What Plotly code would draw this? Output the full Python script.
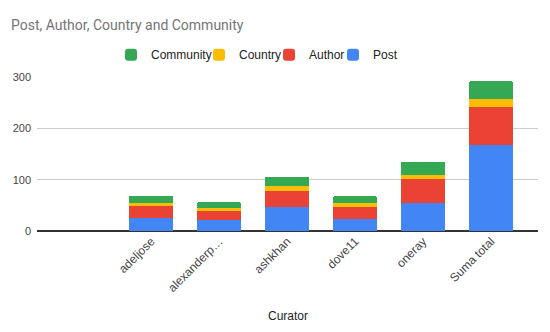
import plotly.graph_objects as go

categories = [" ", "adeljose", "alexanderp…", "ashkhan", "dove11", "oneray", "Suma total"]
post = [None, 25, 21, 47, 23, 55, 167]
author = [None, 23, 18, 31, 23, 46, 75]
country = [None, 6, 6, 10, 8, 9, 15]
community = [None, 15, 11, 18, 14, 25, 35]

series = [
    ("Post", post, "#4285F4", "legend4"),
    ("Author", author, "#EA4335", "legend3"),
    ("Country", country, "#FBBC04", "legend2"),
    ("Community", community, "#34A853", "legend"),
]

fig = go.Figure()
for name, vals, color, lg in series:
    fig.add_trace(go.Bar(
        x=categories, y=vals, name=name, legend=lg, showlegend=True,
        marker=dict(color=color, line=dict(width=0)),
    ))

LFONT = "Arial, Liberation Sans, sans-serif"
legend_x = {"legend": 0.1477, "legend2": 0.3233, "legend3": 0.4631, "legend4": 0.5908}
legend_common = dict(orientation="h", xanchor="left", y=1.145, yanchor="middle",
                     font=dict(family=LFONT, size=12, color="#222222"),
                     bgcolor="rgba(0,0,0,0)", itemclick=False)

fig.update_layout(
    showlegend=True,
    barmode="stack",
    bargap=0.35,
    barcornerradius=2,
    width=550, height=332,
    margin=dict(l=37, r=12, t=77, b=101),
    paper_bgcolor="white", plot_bgcolor="white",
    font=dict(family=LFONT, size=11, color="#444444"),
    title=dict(text="Post, Author, Country and Community", x=0.02, xanchor="left",
               y=0.925, yanchor="middle",
               font=dict(family="Roboto", size=14, color="#757575")),
    xaxis=dict(type="category", tickangle=-45, showgrid=False, showline=False,
               range=[-0.68, 6.69], ticks="", tickfont=dict(size=12, color="#444444")),
    yaxis=dict(range=[0, 300], tickvals=[0, 100, 200, 300], gridcolor="#cccccc",
               zeroline=True, zerolinecolor="#333333", zerolinewidth=1.5,
               tickfont=dict(size=11, color="#444444"), ticks="", ticklabelstandoff=5),
    annotations=[dict(text="Curator", xref="paper", yref="paper", x=0.5, y=-0.555,
                      xanchor="center", yanchor="middle", showarrow=False,
                      font=dict(family=LFONT, size=12, color="#222222"))],
)
for lg, xv in legend_x.items():
    fig.update_layout({lg: dict(x=xv, **legend_common)})

fig.write_html("out.html")
